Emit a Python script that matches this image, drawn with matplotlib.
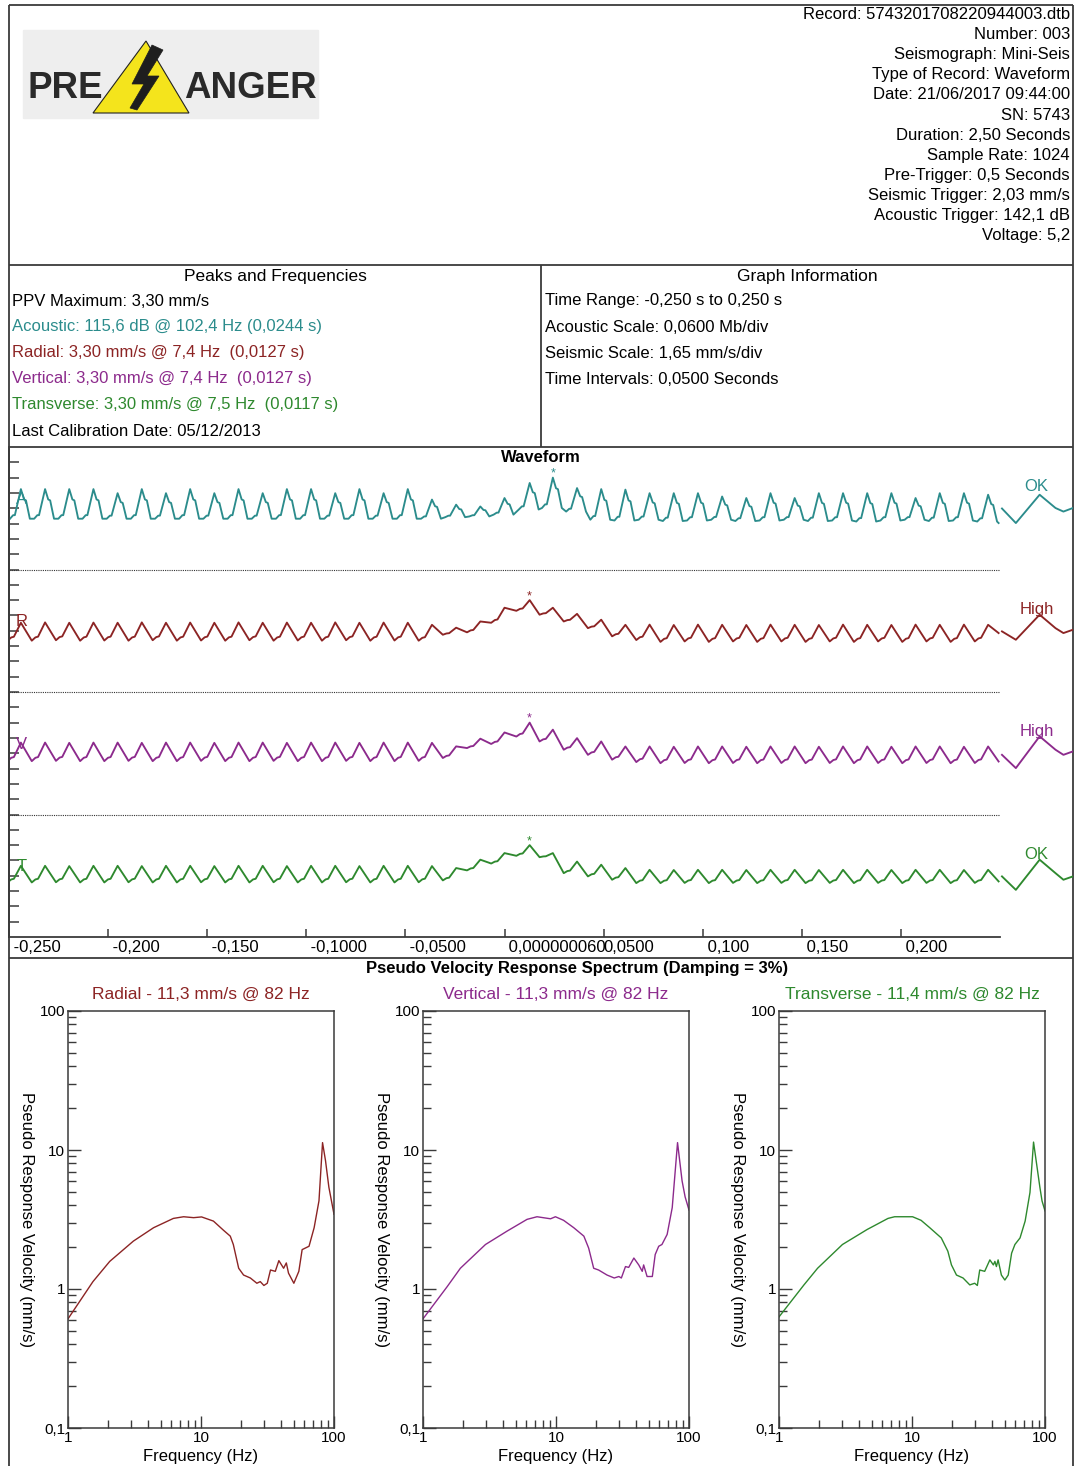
import matplotlib.pyplot as plt
import matplotlib.patches as mpatches
import matplotlib.ticker as mticker
import numpy as np

plt.rcParams['font.family'] = ['Liberation Sans', 'DejaVu Sans']

W, H = 1081, 1466

C_A = '#2b8c8c'
C_R = '#8c2424'
C_V = '#8c2a8c'
C_T = '#2e892e'
C_LINE = '#3a3a3a'

# ---------------- report text ----------------
record_lines = [
    'Record: 5743201708220944003.dtb',
    'Number: 003',
    'Seismograph: Mini-Seis',
    'Type of Record: Waveform',
    'Date: 21/06/2017 09:44:00',
    'SN: 5743',
    'Duration: 2,50 Seconds',
    'Sample Rate: 1024',
    'Pre-Trigger: 0,5 Seconds',
    'Seismic Trigger: 2,03 mm/s',
    'Acoustic Trigger: 142,1 dB',
    'Voltage: 5,2',
]
peak_lines = [
    'PPV Maximum: 3,30 mm/s',
    'Acoustic: 115,6 dB @ 102,4 Hz (0,0244 s)',
    'Radial: 3,30 mm/s @ 7,4 Hz  (0,0127 s)',
    'Vertical: 3,30 mm/s @ 7,4 Hz  (0,0127 s)',
    'Transverse: 3,30 mm/s @ 7,5 Hz  (0,0117 s)',
    'Last Calibration Date: 05/12/2013',
]
peak_colors = ['black', C_A, C_R, C_V, C_T, 'black']
graph_lines = [
    'Time Range: -0,250 s to 0,250 s',
    'Acoustic Scale: 0,0600 Mb/div',
    'Seismic Scale: 1,65 mm/s/div',
    'Time Intervals: 0,0500 Seconds',
]

# ---------------- waveform (one peak/trough per cycle) ----------------
acoustic_scale = 0.06   # mb per div
seismic_scale = 1.65    # mm/s per div
cycle_period = 0.0122
trace_end_t = 0.2493

peak_t = [-0.244, -0.2318, -0.2196, -0.2074, -0.1952, -0.183, -0.1708, -0.1586, -0.1464, -0.1342,
          -0.122, -0.1098, -0.0976, -0.0854, -0.0732, -0.061, -0.0488, -0.0366, -0.0244, -0.0122,
          0.0, 0.0127, 0.0244, 0.0366, 0.0488, 0.061, 0.0732, 0.0854, 0.0976, 0.1098,
          0.122, 0.1342, 0.1464, 0.1586, 0.1708, 0.183, 0.1952, 0.2074, 0.2196, 0.2318,
          0.244]

acoustic_peaks = [0.075, 0.075, 0.075, 0.075, 0.059, 0.075, 0.059, 0.075, 0.059, 0.075,
                  0.059, 0.075, 0.075, 0.059, 0.075, 0.059, 0.075, 0.034, 0.014, 0.007,
                  0.040, 0.099, 0.120, 0.079, 0.075, 0.073, 0.059, 0.059, 0.059, 0.046,
                  0.040, 0.059, 0.040, 0.059, 0.059, 0.059, 0.059, 0.040, 0.059, 0.059,
                  0.053]
acoustic_troughs = [-0.041, -0.041, -0.041, -0.041, -0.041, -0.041, -0.041, -0.041, -0.041, -0.041,
                    -0.041, -0.041, -0.041, -0.041, -0.041, -0.041, -0.041, -0.041, -0.035, -0.032,
                    -0.025, -0.005, 0.001, -0.013, -0.045, -0.048, -0.045, -0.050, -0.048, -0.045,
                    -0.050, -0.048, -0.045, -0.050, -0.048, -0.052, -0.048, -0.045, -0.050, -0.048,
                    -0.052]

radial_peaks = [0.86, 0.90, 0.86, 0.88, 0.86, 0.90, 0.86, 0.88, 0.86, 0.90,
                0.86, 0.88, 0.86, 0.90, 0.86, 0.88, 0.86, 0.64, 0.33, 1.00,
                2.48, 3.30, 2.48, 1.82, 1.19, 0.64, 0.66, 0.62, 0.66, 0.64,
                0.62, 0.66, 0.64, 0.62, 0.66, 0.64, 0.62, 0.66, 0.64, 0.66,
                0.64]
radial_troughs = [-1.07, -1.07, -1.02, -1.07, -1.05, -1.07, -1.02, -1.07, -1.05, -1.07,
                  -1.02, -1.07, -1.05, -1.07, -1.02, -1.07, -1.05, -1.07, -0.43, -0.17,
                  0.86, 2.15, 1.73, 1.00, 0.28, -0.60, -1.00, -1.20, -1.15, -1.20,
                  -1.15, -1.20, -1.15, -1.20, -1.15, -1.20, -1.15, -1.20, -1.15, -1.20,
                  -1.15]

vertical_peaks = [1.15, 1.15, 1.12, 1.15, 1.15, 1.12, 1.15, 1.15, 1.12, 1.15,
                  1.15, 1.12, 1.15, 1.15, 1.12, 1.15, 1.15, 1.12, 0.74, 1.57,
                  2.24, 3.30, 2.54, 1.63, 1.27, 0.73, 0.73, 0.70, 0.73, 0.73,
                  0.70, 0.73, 0.73, 0.70, 0.73, 0.73, 0.70, 0.73, 0.73, 0.70,
                  0.73]
vertical_troughs = [-0.85, -0.85, -0.82, -0.85, -0.85, -0.82, -0.85, -0.85, -0.82, -0.85,
                    -0.85, -0.82, -0.85, -0.85, -0.82, -0.85, -0.85, -0.82, -0.51, 0.56,
                    1.00, 1.80, 1.27, 0.38, -0.17, -0.69, -0.95, -1.07, -1.05, -1.07,
                    -1.05, -1.07, -1.05, -1.07, -1.05, -1.07, -1.05, -1.07, -1.05, -1.07,
                    -1.05]

transverse_peaks = [1.07, 1.07, 1.04, 1.07, 1.07, 1.04, 1.07, 1.07, 1.04, 1.07,
                    1.07, 1.04, 1.07, 1.07, 1.04, 1.07, 1.07, 1.04, 0.83, 1.73,
                    2.44, 3.30, 2.44, 1.53, 1.19, 0.83, 0.64, 0.62, 0.64, 0.64,
                    0.62, 0.64, 0.64, 0.62, 0.64, 0.64, 0.62, 0.64, 0.64, 0.62,
                    0.64]
transverse_troughs = [-0.72, -0.72, -0.70, -0.72, -0.72, -0.70, -0.72, -0.72, -0.70, -0.72,
                      -0.72, -0.70, -0.72, -0.72, -0.70, -0.72, -0.72, -0.70, -0.50, 0.58,
                      1.32, 2.15, 2.00, 0.28, -0.07, -0.43, -0.79, -0.79, -0.77, -0.79,
                      -0.77, -0.79, -0.77, -0.79, -0.77, -0.79, -0.77, -0.79, -0.77, -0.79,
                      -0.77]

trace_tails = {'A': -0.058, 'R': -0.25, 'V': -0.89, 'T': -0.61}

# calibration pulse after the record
cal_t = [0.251, 0.258, 0.270, 0.278, 0.282, 0.2868]
cal_acoustic = [-0.001, -0.058, 0.053, 0.001, -0.013, 0.001]
cal_radial = [-0.07, -0.97, 1.73, 0.28, -0.25, 0.11]
cal_vertical = [-0.17, -1.60, 1.82, 0.38, -0.17, 0.20]
cal_transverse = [-0.07, -1.52, 1.73, 0.28, -0.43, -0.07]

# ---------------- pseudo velocity response spectra ----------------
radial_freq = [1.0, 1.54, 2.06, 3.1, 4.4, 6.2, 7.4, 8.8, 10.1, 12.4, 14.8, 16.6, 17.5, 19.2, 20.9,
               23.5, 26.3, 27.9, 29.7, 31.5, 33.3, 36.2, 38.5, 41.8, 43.8, 45.5, 49.9, 54.4, 57.6,
               64.9, 70.9, 77.1, 82.0, 86.3, 91.5, 100.0]
radial_vel = [0.61, 1.13, 1.58, 2.21, 2.76, 3.22, 3.31, 3.26, 3.30, 3.08, 2.64, 2.40, 2.09, 1.41, 1.26,
              1.20, 1.10, 1.13, 1.06, 1.10, 1.37, 1.34, 1.60, 1.41, 1.54, 1.30, 1.10, 1.34, 1.92,
              2.03, 2.76, 4.31, 11.3, 8.4, 5.4, 3.45]
vertical_freq = [1.0, 1.52, 1.91, 2.95, 4.29, 6.06, 7.2, 9.1, 9.9, 11.4, 13.6, 16.2, 17.6, 19.2, 20.9,
                 24.2, 27.4, 29.7, 31.0, 33.3, 35.2, 38.5, 41.9, 44.5, 45.6, 48.4, 53.0, 55.7, 59.2,
                 62.6, 68.5, 74.8, 82.0, 88.7, 93.5, 100.0]
vertical_vel = [0.61, 1.04, 1.41, 2.09, 2.61, 3.17, 3.31, 3.20, 3.31, 3.12, 2.76, 2.40, 1.97, 1.41, 1.37,
                1.26, 1.20, 1.23, 1.20, 1.45, 1.43, 1.67, 1.49, 1.34, 1.49, 1.23, 1.23, 1.77, 2.03,
                2.09, 2.47, 3.85, 11.3, 6.0, 4.6, 3.7]
transverse_freq = [1.0, 1.54, 1.95, 3.0, 4.6, 6.6, 7.4, 10.1, 11.7, 13.6, 16.6, 18.6, 19.8, 21.6, 24.2,
                   27.2, 29.6, 31.0, 32.3, 35.2, 38.5, 40.9, 42.0, 43.1, 44.4, 47.0, 49.9, 52.9, 56.1,
                   59.4, 64.9, 70.9, 77.1, 82.0, 91.5, 95.0, 100.0]
transverse_vel = [0.63, 1.07, 1.41, 2.09, 2.68, 3.22, 3.31, 3.31, 3.12, 2.76, 2.33, 1.87, 1.49, 1.26, 1.20,
                  1.07, 1.10, 1.06, 1.37, 1.34, 1.62, 1.49, 1.58, 1.45, 1.62, 1.26, 1.16, 1.26, 1.81,
                  2.09, 2.33, 3.08, 4.95, 11.4, 5.4, 4.3, 3.65]


def acoustic_trace(peaks, troughs, tail):
    t, v = [], []
    for tk, pk, tr in zip(peak_t, peaks, troughs):
        a = pk - tr
        t += [tk - 0.45 * cycle_period, tk - 0.32 * cycle_period, tk - 0.25 * cycle_period, tk,
              tk + 0.13 * cycle_period, tk + 0.21 * cycle_period, tk + 0.37 * cycle_period]
        v += [tr, tr + 0.12 * a, tr + 0.12 * a, pk, tr + 0.65 * a, tr + 0.62 * a, tr]
    t.append(trace_end_t)
    v.append(tail)
    return np.array(t), np.array(v)


def seismic_trace(peaks, troughs, tail):
    t, v = [], []
    for tk, pk, tr in zip(peak_t, peaks, troughs):
        a = pk - tr
        t += [tk - 0.55 * cycle_period, tk - 0.40 * cycle_period, tk - 0.29 * cycle_period, tk]
        v += [tr, tr + 0.18 * a, tr + 0.22 * a, pk]
    t.append(trace_end_t)
    v.append(tail)
    return np.array(t), np.array(v)


fig = plt.figure(figsize=(W / 100, H / 100), dpi=100)

# base layer in pixel coordinates for the report frame and text
ax0 = fig.add_axes([0, 0, 1, 1])
ax0.set_xlim(0, W)
ax0.set_ylim(H, 0)
ax0.axis('off')

lw_frame = 1.3
for x0, y0, x1, y1 in [(9, 5, 1073, 5), (9, 5, 9, H), (1073, 5, 1073, H),
                       (9, 265, 1073, 265), (9, 447, 1073, 447), (9, 958, 1073, 958),
                       (541, 265, 541, 447)]:
    ax0.plot([x0, x1], [y0, y1], color=C_LINE, lw=lw_frame, solid_capstyle='butt')

# logo
ax0.add_patch(mpatches.Rectangle((23, 30), 295, 88, color='#eeeeee', zorder=1))
ax0.add_patch(mpatches.Polygon([(93, 113), (146, 41), (189, 113)], closed=True,
                               fc='#f4e41c', ec='#222222', lw=0.8, zorder=2))
ax0.add_patch(mpatches.Polygon([(152, 45), (163, 50), (147, 76), (159, 76), (137, 110),
                                (130, 108), (144, 84), (132, 84)], closed=True,
                               fc='#1e1e1e', ec='#1e1e1e', lw=0.5, zorder=3))
ax0.text(27, 98, 'PRE', fontsize=26.5, fontweight='bold', color='#2a2a2a',
         ha='left', va='baseline', zorder=4)
ax0.text(184, 98, 'ANGER', fontsize=26.5, fontweight='bold', color='#2a2a2a',
         ha='left', va='baseline', zorder=4)

# header info
for i, s in enumerate(record_lines):
    ax0.text(1070, 14.5 + i * 20.1, s, fontsize=12, ha='right', va='center')

# peaks / graph info tables
ax0.text(275, 276, 'Peaks and Frequencies', fontsize=12.5, ha='center', va='center')
ax0.text(807, 276, 'Graph Information', fontsize=12.5, ha='center', va='center')
for i, (s, c) in enumerate(zip(peak_lines, peak_colors)):
    ax0.text(12, 301 + i * 26, s, fontsize=12, color=c, ha='left', va='center')
for i, s in enumerate(graph_lines):
    ax0.text(545, 301 + i * 26, s, fontsize=12, ha='left', va='center')

ax0.text(541, 457, 'Waveform', fontsize=12, fontweight='bold', ha='center', va='center')
ax0.text(577, 968, 'Pseudo Velocity Response Spectrum (Damping = 3%)', fontsize=12,
         fontweight='bold', ha='center', va='center')

# ---------------- waveform axes ----------------
axw = fig.add_axes([9 / W, 1 - 937 / H, (1073 - 9) / W, (937 - 447) / H])
axw.set_facecolor('none')
axw.set_xlim(-0.25, -0.25 + 1064 / 1982)
axw.set_ylim(0, 32)
for s in ['top', 'right']:
    axw.spines[s].set_visible(False)
axw.spines['bottom'].set_bounds(-0.25, 0.25)
for s in ['left', 'bottom']:
    axw.spines[s].set_color(C_LINE)
    axw.spines[s].set_linewidth(lw_frame)

tick_t = [-0.25, -0.2, -0.15, -0.1, -0.05, 0.0, 0.05, 0.1, 0.15, 0.2]
tick_lab = [' -0,250', ' -0,200', ' -0,150', ' -0,1000', ' -0,0500', ' 0,000000060',
            '0,0500', ' 0,100', ' 0,150', ' 0,200']
axw.set_xticks(tick_t)
axw.set_xticklabels(tick_lab, fontsize=12, ha='left')
axw.set_yticks(np.arange(1, 32))
axw.set_yticklabels([])
axw.tick_params(axis='x', direction='in', length=6, width=1.1, color=C_LINE, pad=2)
axw.tick_params(axis='y', direction='in', length=7, width=1.1, color=C_LINE)

for yd in [8, 16, 24]:
    axw.plot([-0.25, 0.25], [yd, yd], color='#333333', lw=0.8, dashes=(1, 1))

channels = [
    ('A', 28, acoustic_scale, acoustic_trace(acoustic_peaks, acoustic_troughs, trace_tails['A']),
     cal_acoustic, C_A, 'OK'),
    ('R', 20, seismic_scale, seismic_trace(radial_peaks, radial_troughs, trace_tails['R']),
     cal_radial, C_R, 'High'),
    ('V', 12, seismic_scale, seismic_trace(vertical_peaks, vertical_troughs, trace_tails['V']),
     cal_vertical, C_V, 'High'),
    ('T', 4, seismic_scale, seismic_trace(transverse_peaks, transverse_troughs, trace_tails['T']),
     cal_transverse, C_T, 'OK'),
]
for name, center, scale, (tt, vv), cal, col, status in channels:
    yy = center + vv / scale
    axw.plot(tt, yy, color=col, lw=1.35)
    axw.plot(cal_t, center + np.array(cal) / scale, color=col, lw=1.35)
    k = int(np.argmax(yy))
    axw.annotate('*', (tt[k], yy[k]), xytext=(0, 0.5), textcoords='offset points',
                 ha='center', va='baseline', fontsize=9, color=col)
    axw.text(-0.2435, center + 0.6, name, fontsize=12, color=col, ha='center', va='center')
    axw.text(0.2685, center + 1.4, status, fontsize=12, color=col, ha='center', va='center')

# ---------------- spectra axes ----------------
spectra = [
    ('Radial - 11,3 mm/s @ 82 Hz', radial_freq, radial_vel, C_R, 68),
    ('Vertical - 11,3 mm/s @ 82 Hz', vertical_freq, vertical_vel, C_V, 423),
    ('Transverse - 11,4 mm/s @ 82 Hz', transverse_freq, transverse_vel, C_T, 779),
]
for title, f, v, col, left in spectra:
    ax = fig.add_axes([left / W, 1 - 1428 / H, 266 / W, 417 / H])
    ax.plot(f, v, color=col, lw=1.0)
    ax.set_xscale('log')
    ax.set_yscale('log')
    ax.set_xlim(1, 100)
    ax.set_ylim(0.1, 100)
    ax.set_xticks([1, 10, 100])
    ax.set_xticklabels(['1', '10', '100'], fontsize=11)
    ax.set_yticks([0.1, 1, 10, 100])
    ax.set_yticklabels(['0,1', '1', '10', '100'], fontsize=11)
    ax.xaxis.set_minor_locator(mticker.LogLocator(base=10, subs=np.arange(2, 10), numticks=20))
    ax.yaxis.set_minor_locator(mticker.LogLocator(base=10, subs=np.arange(2, 10), numticks=20))
    ax.xaxis.set_minor_formatter(mticker.NullFormatter())
    ax.yaxis.set_minor_formatter(mticker.NullFormatter())
    ax.tick_params(which='major', direction='in', length=9, width=1.0, color=C_LINE, pad=2)
    ax.tick_params(which='minor', direction='in', length=5.5, width=1.0, color=C_LINE)
    for s in ax.spines.values():
        s.set_color(C_LINE)
        s.set_linewidth(1.1)
    ax.text(0.5, 1 + 17 / 417, title, transform=ax.transAxes, ha='center', va='center',
            fontsize=12.5, color=col)
    ax.set_ylabel('Pseudo Response Velocity (mm/s)', fontsize=12, rotation=270,
                  ha='center', va='center')
    ax.yaxis.set_label_coords(-42 / 266, 0.5)
    ax.set_xlabel('Frequency (Hz)', fontsize=12, va='center')
    ax.xaxis.set_label_coords(0.5, -29 / 417)

fig.savefig('out.png', dpi=100)
